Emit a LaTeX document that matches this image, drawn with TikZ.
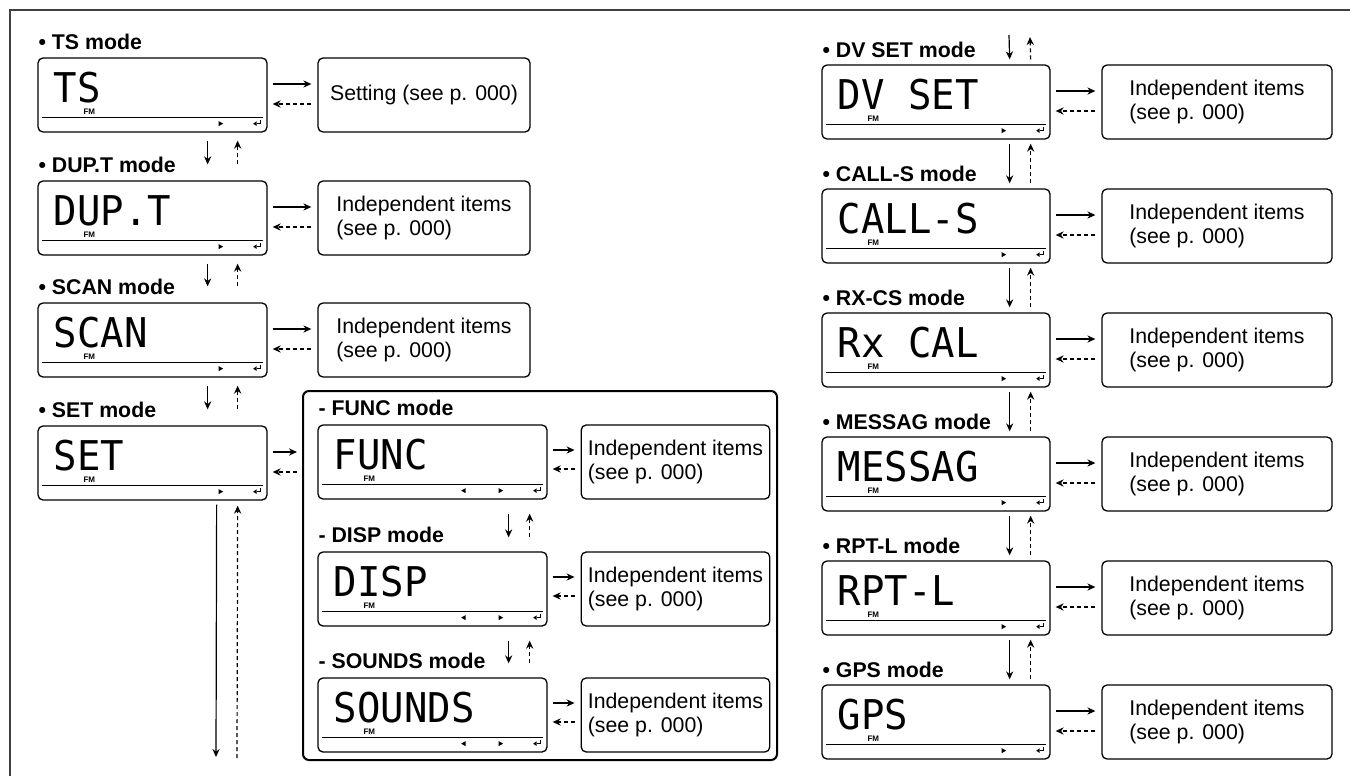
\documentclass[tikz,border=0pt]{standalone}
\usepackage{fontspec}
\setmainfont{Liberation Sans}
\newfontfamily\segfont[FakeStretch=0.95]{DejaVu Sans Mono}
\usetikzlibrary{arrows.meta, calc}

% LCD face: rule, FM tag, text, cursor marks
\newcommand\lcdpanel[2]{%
  \draw[line width=0.6pt] ($(#1.south west)+(5,-15)$) -- ($(#1.south east)+(-5,-15)$);
  \node[fmtag] at ($(#1.north west)+(52,54)$) {FM};
  \node[segtext] at ($(#1.north west)+(16,30)$) {#2};
  \fill ($(#1.south east)+(-49,-11.5)$) -- ++(4.5,2.5) -- ++(-4.5,2.5) -- cycle;
  \draw[line width=0.7pt] ($(#1.south east)+(-7,-12.5)$) -- ++(0,3.5) -- ++(-4,0);
  \fill ($(#1.south east)+(-14.5,-9)$) -- ++(3.5,-2.3) -- ++(0,4.6) -- cycle;
}
\newcommand\lcdleft[1]{%
  \fill ($(#1.south east)+(-82,-11.5)$) -- ++(-4.5,2.5) -- ++(4.5,2.5) -- cycle;
}
% pair of vertical arrows between two panels
\newcommand\updown[6]{%
  \draw[fwd] ($(#1.south east)+(#3,#5)$) -- ($(#2.north east)+(#3,-#6)$);
  \draw[back] ($(#2.north east)+(#4,-#6)$) -- ($(#1.south east)+(#4,#5)$);
}
% pair of horizontal arrows panel -> items
\newcommand\links[2]{%
  \draw[fwd] ($(#1.east)+(5,-11)$) -- ($(#2.west)+(-6,-11)$);
  \draw[back] ($(#2.west)+(-6,9)$) -- ($(#1.east)+(5,9)$);
}

\begin{document}
\begin{tikzpicture}[x=0.5pt, y=-0.5pt, >={Stealth[length=4pt,width=3.6pt]}, line width=0.6pt,
  lcd/.style={draw, rounded corners=2.5pt, minimum width=114.5pt, minimum height=37pt, inner sep=0pt, line width=0.65pt},
  infobox/.style={draw, rounded corners=2.5pt, minimum width=115pt, minimum height=37pt, align=left,
    font=\fontsize{10.65}{12}\selectfont, line width=0.65pt},
  modelabel/.style={anchor=west, inner sep=0pt, font=\fontsize{10.65}{12}\selectfont\bfseries},
  segtext/.style={anchor=west, inner sep=0pt, font=\segfont\fontsize{20.5}{20.5}\selectfont},
  fmtag/.style={inner sep=0pt, font=\fontsize{4}{4}\selectfont\bfseries},
  fwd/.style={->}, back/.style={->, dash pattern=on 2pt off 1.5pt}]
  \useasboundingbox (0,0) rectangle (1350,776);
  \draw[line width=0.8pt, black!75] (10,776) -- (10,10) -- (1350,10);

  % ===== Left column =====
  \node[modelabel] (tslab) at (38,42) {• TS mode};
  \node[lcd] (ts) at (152.5,95) {};
  \node[infobox, minimum width=106pt, align=center] (tsbox) at (424,95) {Setting (see p. 000)};
  \node[modelabel] (duptlab) at (38,165) {• DUP.T mode};
  \node[lcd] (dupt) at (152.5,218) {};
  \node[infobox, minimum width=106pt] (duptbox) at (424,218) {Independent items\\(see p. 000)};
  \node[modelabel] (scanlab) at (38,287) {• SCAN mode};
  \node[lcd] (scan) at (152.5,340) {};
  \node[infobox, minimum width=106pt] (scanbox) at (424,340) {Independent items\\(see p. 000)};
  \node[modelabel] (setlab) at (38,410) {• SET mode};
  \node[lcd] (set) at (152.5,463) {};
  \lcdpanel{ts}{TS}
  \lcdpanel{dupt}{DUP.T}
  \lcdpanel{scan}{SCAN}
  \lcdpanel{set}{SET}
  \links{ts}{tsbox}
  \links{dupt}{duptbox}
  \links{scan}{scanbox}
  \updown{ts}{dupt}{-60}{-30}{8}{16}
  \updown{dupt}{scan}{-60}{-30}{8}{16}
  \updown{scan}{set}{-60}{-30}{8}{16}
  \coordinate (setdown) at (216,757);
  \coordinate (setup) at (237,758);
  \draw[fwd] ($(set.south east)+(-51,4)$) -- (setdown);
  \draw[back] (setup) -- ($(set.south east)+(-30,5)$);

  % ===== SET group =====
  \node[draw, line width=1pt, rounded corners=3pt, minimum width=237pt, minimum height=184.5pt] (setgroup) at (540,575.5) {};
  \draw[fwd] ($(set.east)+(5,-11)$) -- ($(set.east -| setgroup.west)+(-5,-11)$);
  \draw[back] ($(set.east -| setgroup.west)+(-5,9)$) -- ($(set.east)+(5,9)$);
  \node[modelabel] (funclab) at (318,408) {- FUNC mode};
  \node[lcd] (func) at (432.5,462) {};
  \node[infobox, minimum width=92.5pt] (funcbox) at (675.5,462) {Independent items\\(see p. 000)};
  \node[modelabel] (displab) at (318,535) {- DISP mode};
  \node[lcd] (disp) at (432.5,589) {};
  \node[infobox, minimum width=92.5pt] (dispbox) at (675.5,589) {Independent items\\(see p. 000)};
  \node[modelabel] (soundslab) at (318,661) {- SOUNDS mode};
  \node[lcd] (sounds) at (432.5,715) {};
  \node[infobox, minimum width=92.5pt] (soundsbox) at (675.5,715) {Independent items\\(see p. 000)};
  \foreach \n/\t in {func/FUNC, disp/DISP, sounds/SOUNDS}{
    \lcdpanel{\n}{\t}
    \lcdleft{\n}
    \draw[fwd] ($(\n.east)+(5,-12)$) -- ($(\n box.west)+(-6,-12)$);
    \draw[back] ($(\n box.west)+(-6,7)$) -- ($(\n.east)+(5,7)$);
  }
  \updown{func}{disp}{-39}{-18}{14}{14}
  \updown{disp}{sounds}{-39}{-18}{14}{14}

  % ===== Right column =====
  \coordinate (dvin) at (1009,35);
  \coordinate (dvout) at (1030,37);
  \foreach \n/\t/\l [count=\k from 0] in {dvset/DV SET/DV SET, calls/CALL-S/CALL-S, rxcs/Rx CAL/RX-CS,
      messag/MESSAG/MESSAG, rptl/RPT-L/RPT-L, gps/GPS/GPS}{
    \node[modelabel] (\n lab) at (822,50+124*\k) {• \l\ mode};
    \node[lcd, minimum width=114pt] (\n) at (936,102+124*\k) {};
    \node[infobox] (\n box) at (1217,102+124*\k) {Independent items\\(see p. 000)};
    \lcdpanel{\n}{\t}
    \links{\n}{\n box}
  }
  \draw[fwd] (dvin) -- ($(dvset.north east)+(-41,-5)$);
  \draw[back] ($(dvset.north east)+(-20,-5)$) -- (dvout);
  \updown{dvset}{calls}{-41}{-20}{4}{5}
  \updown{calls}{rxcs}{-41}{-20}{4}{5}
  \updown{rxcs}{messag}{-41}{-20}{4}{5}
  \updown{messag}{rptl}{-41}{-20}{4}{5}
  \updown{rptl}{gps}{-41}{-20}{4}{5}
\end{tikzpicture}
\end{document}
